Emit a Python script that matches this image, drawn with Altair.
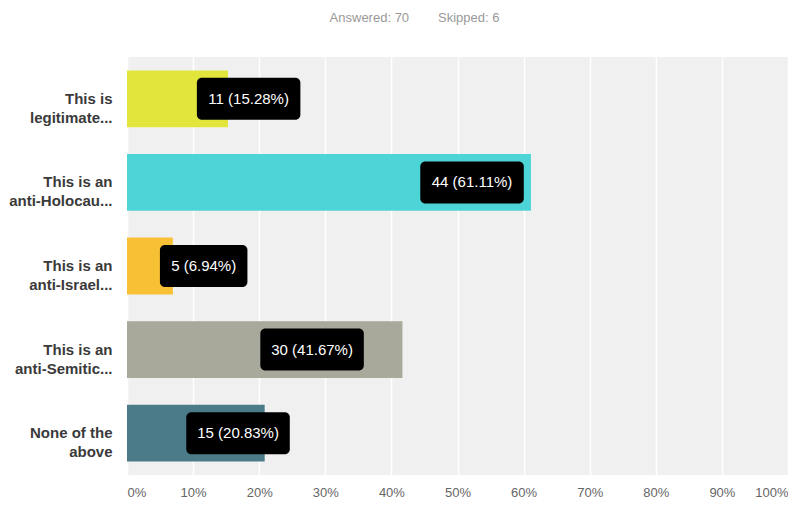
import altair as alt
import pandas as pd

categories = ["This is|legitimate...", "This is an|anti-Holocau...", "This is an|anti-Israel...",
              "This is an|anti-Semitic...", "None of the|above"]
counts = [11, 44, 5, 30, 15]
percents = [15.28, 61.11, 6.94, 41.67, 20.83]
colors = ["#e2e53c", "#4dd4d7", "#f8c034", "#a9a99b", "#4b7b89"]
# where the value callouts sit on the percent axis
label_centers = [18.4, 52.2, 11.6, 28.0, 16.8]

W, H = 661, 418
px_per_pct = W / 100.0

labels = [f"{c} ({p:.2f}%)" for c, p in zip(counts, percents)]
half = [(len(t.replace(" ", "")) * 8.0 + 3.5 + 20) / 2 / px_per_pct for t in labels]

df = pd.DataFrame({
    "cat": categories,
    "pct": percents,
    "color": colors,
    "label": labels,
    "lc": label_centers,
    "lo": [c - h for c, h in zip(label_centers, half)],
    "hi": [c + h for c, h in zip(label_centers, half)],
})

FONT = "Liberation Sans"

y = alt.Y("cat:N", sort=categories, title=None,
          scale=alt.Scale(paddingInner=0.32, paddingOuter=0.16),
          axis=alt.Axis(labelExpr="split(datum.label, '|')", labelFont=FONT, labelFontSize=15,
                        labelFontWeight="bold", labelColor="#3a3a3a", labelPadding=15,
                        labelLineHeight=19, ticks=False, domain=False, grid=False,
                        labelLimit=200))

x_scale = alt.Scale(domain=[0, 100], nice=False)

bars = alt.Chart(df).mark_bar().encode(
    x=alt.X("pct:Q", scale=x_scale, title=None,
            axis=alt.Axis(values=list(range(0, 101, 10)), labelExpr="datum.value + '%'",
                          labelFont=FONT, labelFontSize=13, labelColor="#666666",
                          labelPadding=11, labelFlush=True, ticks=False, domain=False,
                          grid=True, gridColor="#ffffff", gridWidth=1.5, gridOpacity=1)),
    y=y,
    color=alt.Color("color:N", scale=None),
)

boxes = alt.Chart(df).mark_bar(color="#000000", cornerRadius=5, size=42).encode(
    x=alt.X("lo:Q", scale=x_scale),
    x2="hi:Q",
    y=alt.Y("cat:N", sort=categories),
)

texts = alt.Chart(df).mark_text(color="#ffffff", font=FONT, fontSize=15, align="center",
                                baseline="middle").encode(
    x=alt.X("lc:Q", scale=x_scale),
    y=alt.Y("cat:N", sort=categories),
    text="label:N",
)

chart = alt.layer(bars, boxes, texts).properties(
    width=W, height=H,
    background="#ffffff",
    title=alt.TitleParams("Answered: 70" + "\u00a0" * 8 + "Skipped: 6", fontSize=13,
                          font=FONT, fontWeight="normal", color="#999999",
                          anchor="middle", dx=-43, offset=32),
    autosize=alt.AutoSizeParams(type="none"),
    padding={"left": 119, "top": 49, "right": 0, "bottom": 30},
).configure_view(fill="#f0f0f0", stroke=None)

chart.save("out.html", embed_options={"renderer": "svg", "actions": False})
